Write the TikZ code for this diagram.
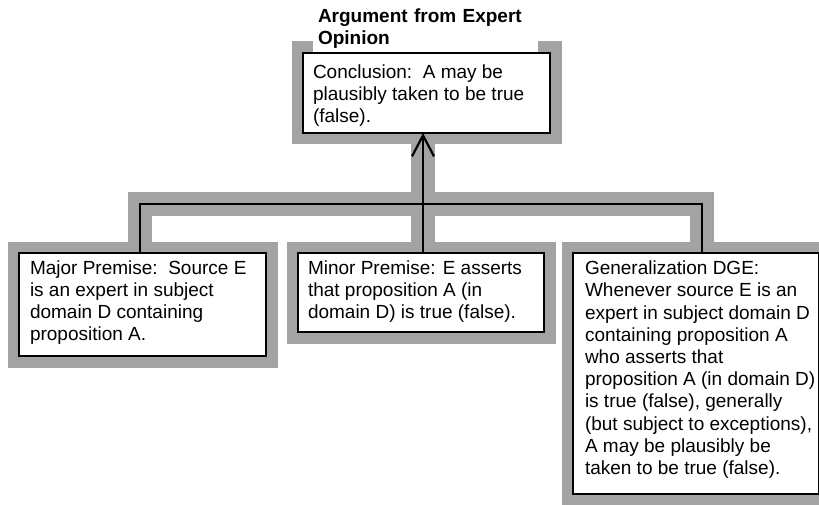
\documentclass[tikz,border=0pt]{standalone}
\usepackage{fontspec}
\setmainfont{Liberation Sans}
\usetikzlibrary{arrows.meta,calc}
\definecolor{boxgray}{RGB}{163,163,163}
\begin{document}
\begin{tikzpicture}[x=1pt,y=1pt,
  argbox/.style={draw=black, line width=2.2pt, fill=white, inner sep=0pt, outer sep=0pt, anchor=north west,
    preaction={draw=boxgray, line width=23pt}},
  argtext/.style={inner sep=0pt, outer sep=0pt, anchor=north west, align=left,
    font=\fontsize{19pt}{22.2pt}\selectfont},
  titletext/.style={fill=white, inner xsep=5pt, inner ysep=3.5pt, outer sep=0pt, anchor=north west,
    text width=215pt, align=left, font=\fontsize{19pt}{21.7pt}\selectfont\bfseries},
  graylink/.style={draw=boxgray, line width=24pt},
  blacklink/.style={draw=black, line width=2.2pt},
  boxframe/.style={inner sep=0pt, outer sep=0pt, anchor=north west},
]
\useasboundingbox (0,0) rectangle (819,-505);
\fill[white] (0,0) rectangle (819,-505);

% junctions of the connector bus
\coordinate (j1) at (140,-204);
\coordinate (j2) at (423,-204);
\coordinate (j3) at (702,-204);

% box frames (anchors for the connectors)
\node[boxframe, minimum width=247pt, minimum height=80pt] (con) at (303,-53) {};
\node[boxframe, minimum width=247pt, minimum height=103pt] (maj) at (19,-253) {};
\node[boxframe, minimum width=246pt, minimum height=79pt] (min) at (298,-253) {};
\node[boxframe, minimum width=246pt, minimum height=241pt] (gen) at (573,-253) {};

\draw[graylink] (maj.north -| j1) -- (j1) -- (j3) -- (gen.north -| j3);
\draw[graylink] (con.south -| j2) -- (min.north -| j2);

\node[argbox, minimum width=247pt, minimum height=80pt] (conbox) at (con.north west) {};
\node[argbox, minimum width=247pt, minimum height=103pt] (majbox) at (maj.north west) {};
\node[argbox, minimum width=246pt, minimum height=79pt] (minbox) at (min.north west) {};
\node[argbox, minimum width=246pt, minimum height=241pt] (genbox) at (gen.north west) {};

\node[titletext] (title) at (313,-5.3) {Argument from Expert\\Opinion};

\node[argtext] (context) at (313,-64.3) {Conclusion:\ \ A may be\\plausibly taken to be true\\(false).};
\node[argtext] (majtext) at (30,-260.3) {Major Premise:\ \ Source E\\is an expert in subject\\domain D containing\\proposition A.};
\node[argtext] (mintext) at (308,-260.3) {Minor Premise: E asserts\\that proposition A (in\\domain D) is true (false).};
\node[argtext] (gentext) at (585,-261) {Generalization DGE:\\Whenever source E is an\\expert in subject domain D\\containing proposition A\\who asserts that\\proposition A (in domain D)\\is true (false), generally\\(but subject to exceptions),\\A may be plausibly be\\taken to be true (false).};

\draw[blacklink] (maj.north -| j1) -- (j1) -- (j3) -- (gen.north -| j3);
\draw[blacklink, -{Straight Barb[length=21pt, width=22pt]}] (min.north -| j2) -- (con.south -| j2);
\end{tikzpicture}
\end{document}
